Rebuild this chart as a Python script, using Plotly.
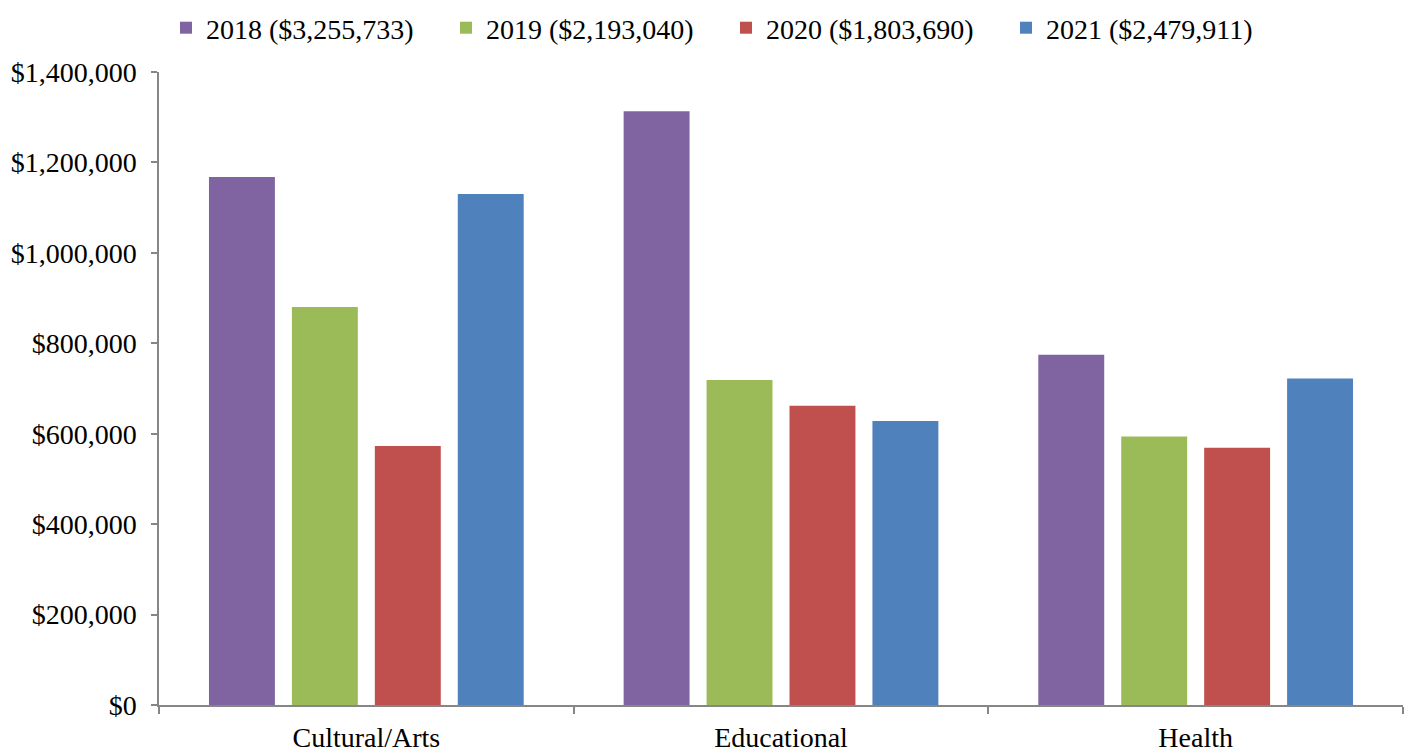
import plotly.graph_objects as go

categories = ["Cultural/Arts", "Educational", "Health"]
series_names = ["2018 ($3,255,733)", "2019 ($2,193,040)", "2020 ($1,803,690)", "2021 ($2,479,911)"]
values_2018 = [1168000, 1313000, 774733]
values_2019 = [880000, 719000, 594040]
values_2020 = [573000, 662000, 568690]
values_2021 = [1130000, 628000, 721911]
colors = ["#8064A2", "#9BBB59", "#C0504D", "#4F81BD"]
tick_vals = [0, 200000, 400000, 600000, 800000, 1000000, 1200000, 1400000]

FONT = "Liberation Serif"
PLOT_L, PLOT_W = 159, 1244
legend_ids = ["legend", "legend2", "legend3", "legend4"]

fig = go.Figure()
for i, (name, vals, col) in enumerate(zip(series_names, [values_2018, values_2019, values_2020, values_2021], colors)):
    fig.add_trace(go.Bar(x=categories, y=vals, name=name, legend=legend_ids[i],
                         marker=dict(color=col, line=dict(width=0))))

layout_legends = {}
for i, lid in enumerate(legend_ids):
    layout_legends[lid] = dict(
        orientation="h", x=(166 + 280 * i - PLOT_L) / PLOT_W, xanchor="left",
        yref="paper", y=1 + 44 / 633, yanchor="middle",
        font=dict(family=FONT, size=28), itemclick=False, bgcolor="rgba(0,0,0,0)")

fig.update_layout(
    width=1413, height=755,
    margin=dict(l=151, r=18, t=64, b=58, autoexpand=False),
    paper_bgcolor="white", plot_bgcolor="white",
    barmode="group", bargap=0.2, bargroupgap=0.205,
    font=dict(family=FONT, size=28, color="black"),
    showlegend=True,
    **layout_legends,
)
fig.update_yaxes(range=[0, 1400000], tickvals=tick_vals, tickformat="$,.0f", showgrid=False,
                 showline=True, linecolor="#868686", linewidth=1.5, ticks="outside", ticklen=6,
                 tickcolor="#868686", tickwidth=1.5, ticklabelstandoff=9, zeroline=False,
                 automargin=False)
fig.update_xaxes(showline=True, linecolor="#868686", linewidth=1.5, ticks="outside", ticklen=7,
                 tickcolor="#868686", tickwidth=1.5, tickson="boundaries", showgrid=False,
                 ticklabelstandoff=7, automargin=False)

fig.write_html("out.html")
